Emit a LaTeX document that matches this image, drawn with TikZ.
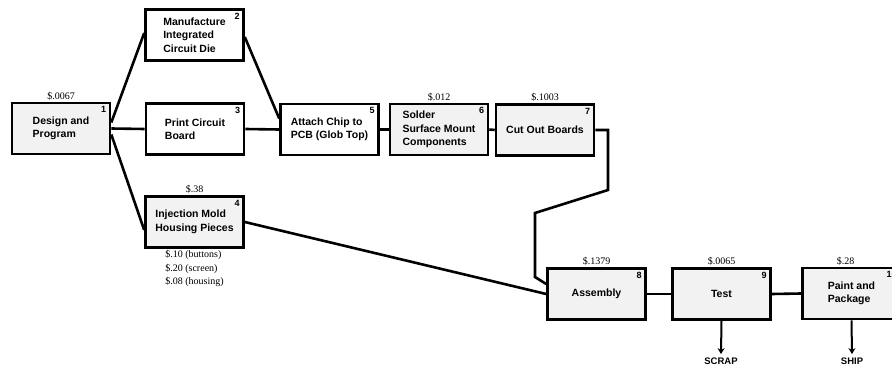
\documentclass[tikz,border=0pt]{standalone}
\usepackage{fontspec}
\setmainfont{Liberation Serif}
\setsansfont{Liberation Sans}
\usepackage{tikz}
\usetikzlibrary{arrows.meta, positioning, calc}
\definecolor{boxgray}{RGB}{242,242,242}

\begin{document}
\begin{tikzpicture}[
  x=1pt, y=-1pt,
  box/.style={rectangle, draw, line width=2.6pt, minimum width=98pt, minimum height=51pt, align=left, inner sep=2pt, font=\sffamily\bfseries\fontsize{10.5}{13.5}\selectfont},
  num/.style={anchor=north east, inner xsep=5pt, inner ysep=4.5pt, font=\sffamily\bfseries\fontsize{9}{9}\selectfont},
  cost/.style={inner sep=1.5pt, font=\fontsize{10}{12}\selectfont},
  link/.style={line width=2.6pt},
  arrow/.style={-{Stealth[length=6pt, width=7pt]}, line width=2pt},
  exit/.style={font=\sffamily\bfseries\fontsize{9.5}{11}\selectfont},
]
\useasboundingbox (0,0) rectangle (892,367);
\clip (0,0) rectangle (892,367);

% Stage 1
\node[box, fill=boxgray, label={[num]north east:1}, label={[cost]above:\$.0067}] (design) at (61,128.5) {Design and\\Program};

% Parallel stages
\node[box, fill=white, label={[num]north east:2}] (manufacture) at (194.5,35) {Manufacture\\Integrated\\Circuit Die};
\node[box, fill=white, label={[num]north east:3}] (print) at (195,129) {Print Circuit\\Board};
\node[box, fill=boxgray, label={[num]north east:4}, label={[cost]above:\$.38},
  label={[cost, align=left, font=\fontsize{10}{13.5}\selectfont]below:\$.10 (buttons)\\\$.20 (screen)\\\$.08 (housing)}] (mold) at (194.5,222) {Injection Mold\\Housing Pieces};

% Board line
\node[box, fill=white, label={[num]north east:5}] (attach) at (329.5,129.5) {Attach Chip to\\PCB (Glob Top)};
\node[box, fill=boxgray, label={[num]north east:6}, label={[cost]above:\$.012}] (solder) at (439,129.5) {Solder\\Surface Mount\\Components};
\node[box, fill=boxgray, label={[num]north east:7}, label={[cost]above:\$.1003}] (cutout) at (545,130) {Cut Out Boards};

% Final line
\node[box, fill=boxgray, label={[num]north east:8}, label={[cost]above:\$.1379}] (assembly) at (596.5,294) {Assembly};
\node[box, fill=boxgray, label={[num]north east:9}, label={[cost]above:\$.0065}] (test) at (721.5,294) {Test};
\node[box, fill=boxgray, label={[num]north east:10}, label={[cost, xshift=-6pt]above:\$.28}] (paint) at (851.5,293.5) {Paint and\\Package};

% Exits
\node[exit] (scrap) at (721,361) {SCRAP};
\node[exit] (ship) at (852,361) {SHIP};

% Links
\draw[link] ([yshift=6pt]design.east) -- ([yshift=2pt]manufacture.west);
\draw[link] (design.east) -- (print.west);
\draw[link] ([yshift=-6pt]design.east) -- ([yshift=-8pt]mold.west);
\draw[link] ([yshift=-2pt]manufacture.east) -- ([yshift=11pt]attach.west);
\draw[link] (print.east) -- (attach.west);
\draw[link] (attach.east) -- (solder.west);
\draw[link] (solder.east) -- (cutout.west);
\draw[link] (mold.east) -- (assembly.west);
\draw[link] (cutout.east) -| (608,190) -- (535,213) -- (535,277) -- ([yshift=10pt]assembly.west);
\draw[link] (assembly.east) -- (test.west);
\draw[link] (test.east) -- (paint.west);
\draw[arrow] (test.south) -- (scrap.north);
\draw[arrow] (paint.south) -- (ship.north);

\end{tikzpicture}
\end{document}
